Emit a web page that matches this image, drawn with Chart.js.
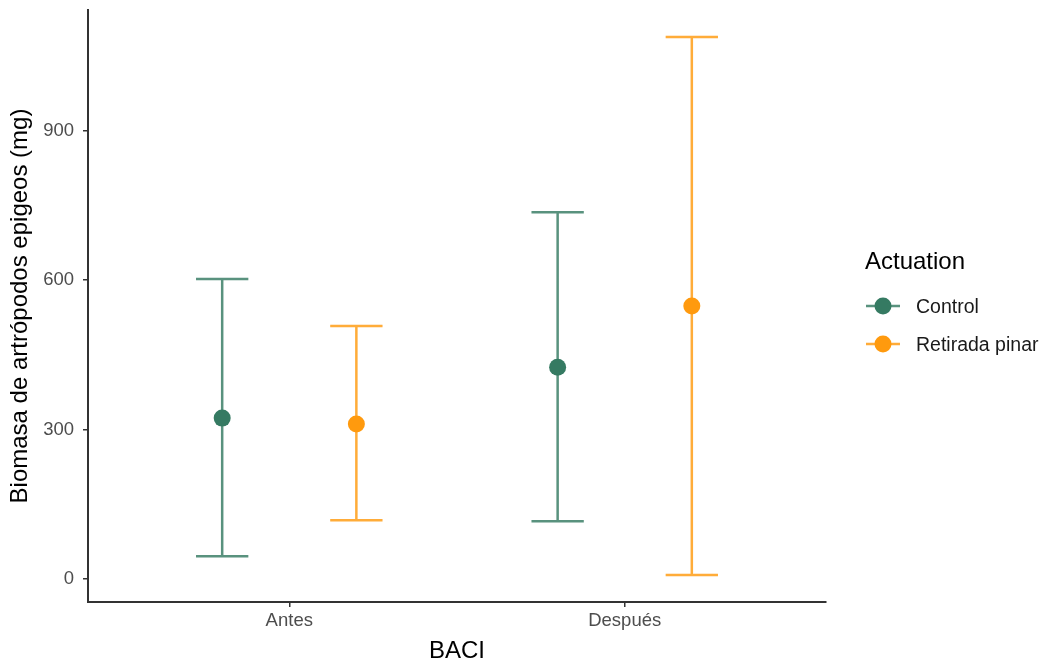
<!DOCTYPE html>
<html>
<head>
<meta charset="utf-8">
<script src="https://cdn.jsdelivr.net/npm/chart.js@4.4.1/dist/chart.umd.min.js"></script>
<style>
  html,body{margin:0;padding:0;background:#fff;}
  #wrap{position:relative;width:1046px;height:666px;}
  #legend{position:absolute;left:865px;top:247px;font-family:"Liberation Sans",Arial,sans-serif;}
  #legend .title{font-size:24px;line-height:28px;color:#000;margin-bottom:12px;}
  #legend .item{display:flex;align-items:center;height:38px;font-size:19.5px;color:#1a1a1a;}
  #legend svg{margin-right:15px;}
</style>
</head>
<body>
<div id="wrap">
  <canvas id="c" width="1046" height="666"></canvas>
  <div id="legend"></div>
</div>
<script>
const categories = ["Antes", "Después"];
const seriesNames = ["Control", "Retirada pinar"];
const controlMean = [323, 425];
const controlLower = [46, 116];
const controlUpper = [602, 736];
const retiradaMean = [311, 548];
const retiradaLower = [118, 8];
const retiradaUpper = [508, 1088];
const yTicks = [0, 300, 600, 900];

const pointColors = ["#357a62", "#ff9a0e"];
const lineColors = ["rgba(53,122,98,0.82)", "rgba(255,154,14,0.82)"];
const dodge = [-0.2, 0.2];
const capHalf = 0.078;

const series = [
  {mean: controlMean, lo: controlLower, hi: controlUpper},
  {mean: retiradaMean, lo: retiradaLower, hi: retiradaUpper}
];

const datasets = [];
series.forEach((s, si) => {
  const pts = [];
  categories.forEach((c, ci) => {
    const x = ci + 1 + dodge[si];
    pts.push({x: x - capHalf, y: s.hi[ci]}, {x: x + capHalf, y: s.hi[ci]}, {x: x, y: null});
    pts.push({x: x, y: s.hi[ci]}, {x: x, y: s.lo[ci]}, {x: x, y: null});
    pts.push({x: x - capHalf, y: s.lo[ci]}, {x: x + capHalf, y: s.lo[ci]}, {x: x, y: null});
  });
  datasets.push({
    type: 'line', data: pts, borderColor: lineColors[si], borderWidth: 2.5,
    pointRadius: 0, spanGaps: false, fill: false, order: 2
  });
});
series.forEach((s, si) => {
  datasets.push({
    type: 'scatter', label: seriesNames[si],
    data: categories.map((c, ci) => ({x: ci + 1 + dodge[si], y: s.mean[ci]})),
    backgroundColor: pointColors[si], borderColor: pointColors[si],
    pointRadius: 8.5, borderWidth: 0, order: 1
  });
});

const font = "'Liberation Sans', Arial, sans-serif";
new Chart(document.getElementById('c'), {
  data: {datasets},
  options: {
    responsive: false, animation: false,
    layout: {padding: {top: 10, right: 220, left: 0, bottom: 0}},
    plugins: {legend: {display: false}, tooltip: {enabled: false}},
    scales: {
      x: {
        type: 'linear', min: 0.4, max: 2.6,
        afterBuildTicks: sc => { sc.ticks = categories.map((c, i) => ({value: i + 1})); },
        afterFit: sc => { sc.height = 64; sc.paddingLeft = 0; sc.paddingRight = 0; },
        ticks: {callback: v => categories[v - 1] || '', color: '#4d4d4d', font: {family: font, size: 18.5}, padding: 3, maxRotation: 0, autoSkip: false},
        grid: {display: true, drawOnChartArea: false, drawTicks: true, tickLength: 5, color: '#333', lineWidth: 1.5},
        border: {display: true, color: '#333', width: 2},
        title: {display: true, text: 'BACI', color: '#000', font: {family: font, size: 24}, padding: {top: 0, bottom: 0}}
      },
      y: {
        type: 'linear', min: -46, max: 1142,
        afterBuildTicks: sc => { sc.ticks = yTicks.map(v => ({value: v})); },
        afterFit: sc => { sc.width = 88; sc.paddingTop = 0; sc.paddingBottom = 0; },
        ticks: {color: '#4d4d4d', font: {family: font, size: 18.5}, padding: 9},
        grid: {display: true, drawOnChartArea: false, drawTicks: true, tickLength: 5, color: '#333', lineWidth: 1.5},
        border: {display: true, color: '#333', width: 2},
        title: {display: true, text: 'Biomasa de artrópodos epigeos (mg)', color: '#000', font: {family: font, size: 24}, padding: {top: 6, bottom: 0}}
      }
    }
  }
});

const leg = document.getElementById('legend');
let html = '<div class="title">Actuation</div>';
seriesNames.forEach((n, i) => {
  html += '<div class="item"><svg width="36" height="20"><line x1="1" y1="10" x2="35" y2="10" stroke="' + lineColors[i] + '" stroke-width="2.5"/><circle cx="18" cy="10" r="8.5" fill="' + pointColors[i] + '"/></svg>' + n + '</div>';
});
leg.innerHTML = html;
</script>
</body>
</html>
